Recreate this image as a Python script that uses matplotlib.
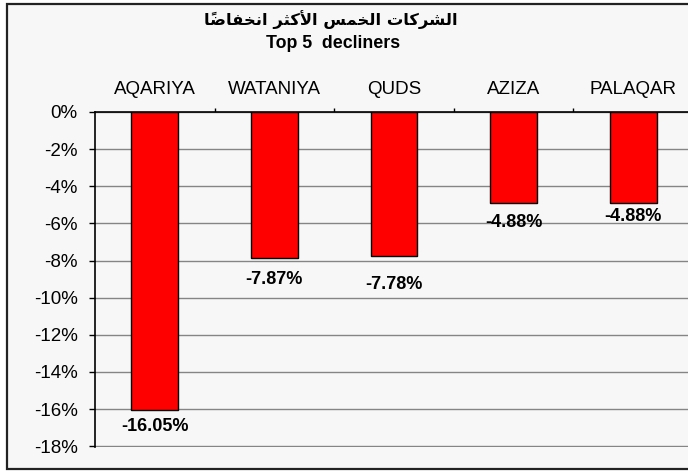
import matplotlib
matplotlib.use("Agg")
import matplotlib.pyplot as plt
from matplotlib.patches import Rectangle
from matplotlib.ticker import FuncFormatter

# data
companies = ["AQARIYA", "WATANIYA", "QUDS", "AZIZA", "PALAQAR"]
changes = [-16.05, -7.87, -7.78, -4.88, -4.88]
title_ar = "الشركات الخمس الأكثر انخفاضاً"
title_en = "Top 5  decliners"

# label drop below each bar end, in pixels (excel placed them unevenly)
label_drop = [16, 21, 28, 20, 14]

# --- tiny arabic shaper, matplotlib 3.10 has no text shaping ---
# letter -> (first presentation form code, number of forms)
AR_FORMS = {
    "ا": (0xFE8D, 2), "أ": (0xFE83, 2), "ر": (0xFEAD, 2),
    "ل": (0xFEDD, 4), "ش": (0xFEB5, 4), "ك": (0xFED9, 4), "ت": (0xFE95, 4),
    "خ": (0xFEA5, 4), "م": (0xFEE1, 4), "س": (0xFEB1, 4), "ث": (0xFE99, 4),
    "ن": (0xFEE5, 4), "ف": (0xFED1, 4), "ض": (0xFEBD, 4),
}
LAM_ALEF = {"ا": 0xFEFB, "أ": 0xFEF7}  # isolated, final = +1
MARKS = {"\u064b"}


def shape_word(word):
    # clusters: [letter key, marks]
    clusters = []
    i = 0
    while i < len(word):
        ch = word[i]
        if ch in MARKS and clusters:
            clusters[-1][1] += ch
        elif ch == "ل" and i + 1 < len(word) and word[i + 1] in LAM_ALEF:
            clusters.append([("LA", word[i + 1]), ""])
            i += 1
        else:
            clusters.append([ch, ""])
        i += 1

    def joins_forward(key):
        if isinstance(key, tuple):
            return False
        return AR_FORMS.get(key, (0, 2))[1] == 4

    out = []
    for n, (key, marks) in enumerate(clusters):
        prev_j = n > 0 and joins_forward(clusters[n - 1][0])
        next_j = joins_forward(key) and n + 1 < len(clusters)
        if isinstance(key, tuple):
            g = chr(LAM_ALEF[key[1]] + (1 if prev_j else 0))
        elif key in AR_FORMS:
            base, nf = AR_FORMS[key]
            if prev_j and next_j:
                off = 3
            elif prev_j:
                off = 1
            elif next_j:
                off = 2
            else:
                off = 0
            g = chr(base + off)
        else:
            g = key
        out.append(g + marks)
    return "".join(reversed(out))


def shape_arabic(text):
    return " ".join(shape_word(w) for w in reversed(text.split(" ")))


W, H = 688, 474
fig = plt.figure(figsize=(W / 100, H / 100), dpi=100, facecolor="white")

# chart frame (right edge is cut off in the original)
fig.patches.append(Rectangle((7 / W, 1 - 469 / H), 1.2, (469 - 4) / H,
                             transform=fig.transFigure, facecolor="#f7f7f8",
                             edgecolor="#222222", linewidth=1.6, zorder=-5))

ax = fig.add_axes([95 / W, 1 - 447 / H, 598 / W, (447 - 112) / H])
ax.set_facecolor("#f7f7f8")

x = list(range(len(companies)))
bars = ax.bar(x, changes, width=0.39, color="#ff0000", edgecolor="black",
              linewidth=1.0, zorder=3)

ax.set_xlim(-0.5, len(companies) - 0.5)
ax.set_ylim(-18.04, 0)
ax.set_yticks(range(-18, 1, 2))
ax.yaxis.set_major_formatter(FuncFormatter(lambda v, p: "%d%%" % round(v)))
ax.yaxis.grid(True, color="#858585", linewidth=1.0, zorder=1)
ax.set_axisbelow(True)

for s in ["right", "bottom"]:
    ax.spines[s].set_visible(False)
ax.spines["left"].set_linewidth(1.2)
ax.spines["top"].set_linewidth(1.2)

ax.xaxis.tick_top()
ax.set_xticks(x)
ax.set_xticklabels(companies, fontfamily="Liberation Sans", fontsize=13.5)
ax.tick_params(axis="x", which="major", length=0, pad=10)
ax.set_xticks([i + 0.5 for i in x[:-1]], minor=True)
ax.tick_params(axis="x", which="minor", direction="out", length=3, width=1.0, top=True)
ax.tick_params(axis="y", direction="out", length=4.5, width=1.0, pad=8,
               labelsize=13.5)
for t in ax.get_yticklabels():
    t.set_fontfamily("Liberation Sans")

for xi, v, drop in zip(x, changes, label_drop):
    ax.annotate("%.2f%%" % v, (xi, v), xytext=(0, -drop * 0.72),
                textcoords="offset points", ha="center", va="center",
                fontfamily="Liberation Sans", fontweight="bold", fontsize=13)

fig.text(331 / W, 1 - 20 / H, shape_arabic(title_ar), ha="center", va="center",
         family=["DejaVu Sans"], fontweight="bold", fontsize=11.8)
fig.text(333 / W, 1 - 44 / H, title_en, ha="center", va="center",
         family=["Liberation Sans"], fontweight="bold", fontsize=12.8)

fig.savefig("out.png", dpi=100, facecolor="white")
